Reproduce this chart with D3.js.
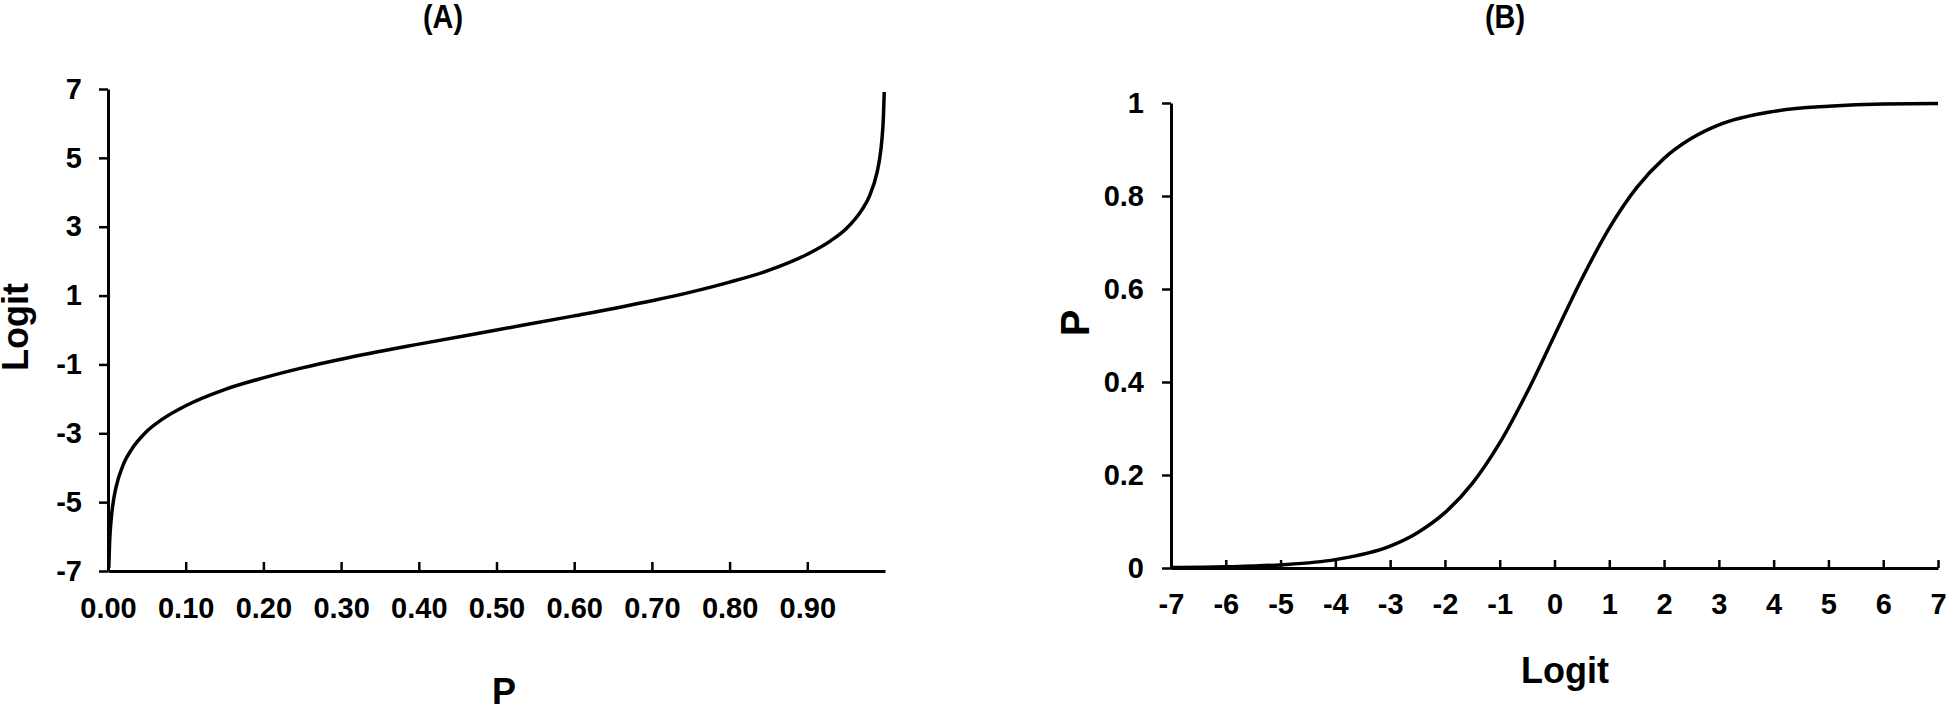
<!DOCTYPE html>
<html>
<head>
<meta charset="utf-8">
<script src="https://cdn.jsdelivr.net/npm/d3@7"></script>
<style>
  html, body { margin: 0; padding: 0; background: #fff; }
  svg { display: block; }
  text { font-family: "Liberation Sans", Arial, sans-serif; font-weight: bold; fill: #000; }
</style>
</head>
<body>
<svg id="chart" width="1948" height="707"></svg>
<script>
// ---- Panel A data (P vs Logit) ----
const pA = [0.001, 0.002, 0.004, 0.007, 0.01, 0.02, 0.03, 0.05, 0.07, 0.10, 0.15, 0.20, 0.25, 0.30, 0.40, 0.50,
            0.60, 0.70, 0.75, 0.80, 0.85, 0.90, 0.93, 0.95, 0.97, 0.98, 0.99, 0.993, 0.996, 0.998, 0.999];
const logitA = [-6.91, -6.21, -5.52, -4.96, -4.60, -3.89, -3.48, -2.94, -2.59, -2.20, -1.73, -1.39, -1.10, -0.85, -0.41, 0.00,
                0.41, 0.85, 1.10, 1.39, 1.73, 2.20, 2.59, 2.94, 3.48, 3.89, 4.60, 4.96, 5.52, 6.21, 6.91];
const xTicksA = [0.00, 0.10, 0.20, 0.30, 0.40, 0.50, 0.60, 0.70, 0.80, 0.90];
const xTickLabelsA = ["0.00", "0.10", "0.20", "0.30", "0.40", "0.50", "0.60", "0.70", "0.80", "0.90"];
const yTicksA = [7, 5, 3, 1, -1, -3, -5, -7];
const yTickLabelsA = ["7", "5", "3", "1", "-1", "-3", "-5", "-7"];

// ---- Panel B data (Logit vs P) ----
const logitB = [-7, -6, -5, -4, -3, -2.5, -2, -1.5, -1, -0.5, 0, 0.5, 1, 1.5, 2, 2.5, 3, 4, 5, 6, 7];
const pB = [0.001, 0.0025, 0.0067, 0.018, 0.047, 0.076, 0.119, 0.182, 0.269, 0.378, 0.500, 0.622, 0.731, 0.818,
            0.881, 0.924, 0.953, 0.982, 0.993, 0.998, 0.999];
const xTicksB = [-7, -6, -5, -4, -3, -2, -1, 0, 1, 2, 3, 4, 5, 6, 7];
const xTickLabelsB = ["-7", "-6", "-5", "-4", "-3", "-2", "-1", "0", "1", "2", "3", "4", "5", "6", "7"];
const yTicksB = [1, 0.8, 0.6, 0.4, 0.2, 0];
const yTickLabelsB = ["1", "0.8", "0.6", "0.4", "0.2", "0"];

const svg = d3.select("#chart");
svg.append("rect").attr("width", 1948).attr("height", 707).attr("fill", "#fff");

function styleAxis(g) {
  g.selectAll("path.domain").attr("stroke", "#000").attr("stroke-width", 3);
  g.selectAll(".tick line").attr("stroke", "#000").attr("stroke-width", 2.5);
  g.selectAll(".tick text").style("font-size", "29px")
    .style("font-family", '"Liberation Sans", Arial, sans-serif').style("font-weight", "bold").attr("fill", "#000");
}

// ---------- Panel A ----------
const xA = d3.scaleLinear().domain([0, 1]).range([108, 885]);
const yA = d3.scaleLinear().domain([-7, 7]).range([571, 89]);

const gxA = svg.append("g").attr("transform", `translate(0,${yA(-7)})`)
  .call(d3.axisBottom(xA).tickValues(xTicksA).tickSizeInner(-9).tickSizeOuter(0).tickPadding(26)
    .tickFormat((d, i) => xTickLabelsA[i]));
styleAxis(gxA);

const gyA = svg.append("g").attr("transform", `translate(${xA(0)},0)`)
  .call(d3.axisLeft(yA).tickValues(yTicksA).tickSizeInner(9).tickSizeOuter(0).tickPadding(17)
    .tickFormat((d, i) => yTickLabelsA[i]));
styleAxis(gyA);

const lineA = d3.line().x((d, i) => xA(pA[i])).y((d, i) => yA(logitA[i])).curve(d3.curveMonotoneX);
svg.append("path").datum(pA).attr("d", lineA).attr("fill", "none").attr("stroke", "#000").attr("stroke-width", 3.5);

svg.append("text").attr("x", 443).attr("y", 28).attr("text-anchor", "middle")
  .style("font-size", "33px").attr("textLength", 40).attr("lengthAdjust", "spacingAndGlyphs").text("(A)");
svg.append("text").attr("x", 504).attr("y", 704).attr("text-anchor", "middle")
  .style("font-size", "36px").text("P");
svg.append("text").attr("transform", "translate(28,327) rotate(-90)").attr("text-anchor", "middle")
  .style("font-size", "36px").text("Logit");

// ---------- Panel B ----------
const xB = d3.scaleLinear().domain([-7, 7]).range([1171, 1938]);
const yB = d3.scaleLinear().domain([0, 1]).range([568, 103]);

const gxB = svg.append("g").attr("transform", `translate(0,${yB(0)})`)
  .call(d3.axisBottom(xB).tickValues(xTicksB).tickSizeInner(-8).tickSizeOuter(0).tickPadding(25)
    .tickFormat((d, i) => xTickLabelsB[i]));
styleAxis(gxB);

const gyB = svg.append("g").attr("transform", `translate(${xB(-7)},0)`)
  .call(d3.axisLeft(yB).tickValues(yTicksB).tickSizeInner(9).tickSizeOuter(0).tickPadding(18)
    .tickFormat((d, i) => yTickLabelsB[i]));
styleAxis(gyB);

const lineB = d3.line().x((d, i) => xB(logitB[i])).y((d, i) => yB(pB[i])).curve(d3.curveMonotoneX);
svg.append("path").datum(logitB).attr("d", lineB).attr("fill", "none").attr("stroke", "#000").attr("stroke-width", 3.5);

svg.append("text").attr("x", 1505).attr("y", 28).attr("text-anchor", "middle")
  .style("font-size", "33px").attr("textLength", 40).attr("lengthAdjust", "spacingAndGlyphs").text("(B)");
svg.append("text").attr("x", 1565).attr("y", 683).attr("text-anchor", "middle")
  .style("font-size", "36px").text("Logit");
svg.append("text").attr("transform", "translate(1089,323) rotate(-90)").attr("text-anchor", "middle")
  .style("font-size", "40px").text("P");
</script>
</body>
</html>
